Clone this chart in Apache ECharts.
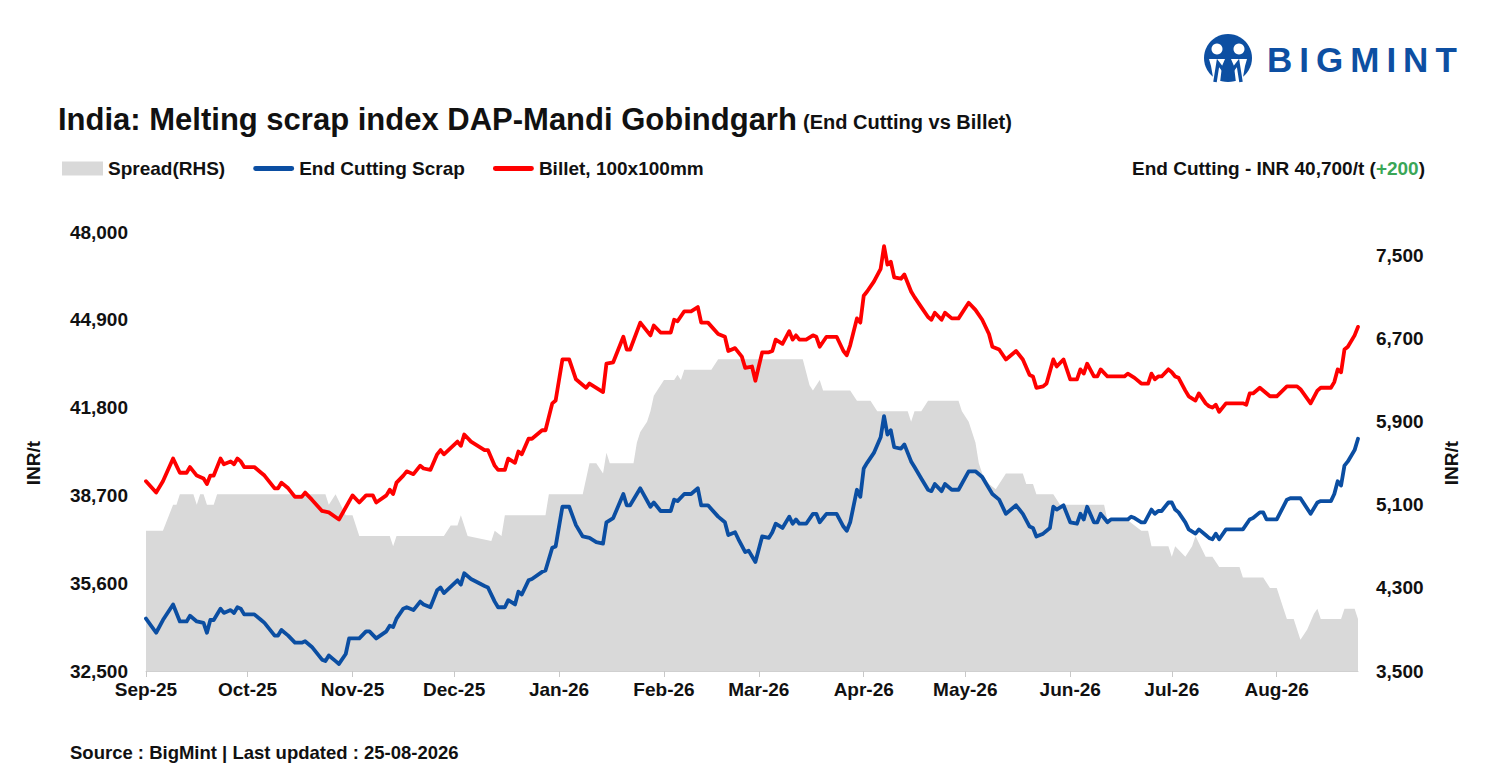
<!DOCTYPE html>
<html>
<head>
<meta charset="utf-8">
<script src="https://cdn.jsdelivr.net/npm/echarts@6/dist/echarts.min.js"></script>
<style>
html,body{margin:0;padding:0;background:#fff;}
#wrap{position:relative;width:1490px;height:776px;}
#chart{position:absolute;left:0;top:0;width:1490px;height:776px;}
#logo{position:absolute;left:1267px;top:42px;font-family:'Liberation Sans',Arial,sans-serif;font-weight:900;font-size:35px;line-height:35px;color:#0d4fa2;letter-spacing:7px;}
</style>
</head>
<body>
<div id="wrap">
<div id="chart"></div>
<div id="logo">BIGMINT</div>
</div>
<script>
// ---------- texts ----------
const titleText = 'India: Melting scrap index DAP-Mandi Gobindgarh';
const subTitleText = '(End Cutting vs Billet)';
const headlineText = 'End Cutting - INR 40,700/t (';
const headlineChange = '+200';
const sourceText = 'Source : BigMint | Last updated : 25-08-2026';
const unitText = 'INR/t';
const seriesNames = ['Spread(RHS)', 'End Cutting Scrap', 'Billet, 100x100mm'];

// ---------- axis ticks ----------
const monthTicks = ['2025-09-01','2025-10-01','2025-11-01','2025-12-01','2026-01-01','2026-02-01',
  '2026-03-01','2026-04-01','2026-05-01','2026-06-01','2026-07-01','2026-08-01'];
const monthNames = ['Jan','Feb','Mar','Apr','May','Jun','Jul','Aug','Sep','Oct','Nov','Dec'];
const leftTicks = [32500, 35600, 38700, 41800, 44900, 48000];
const rightTicks = [3500, 4300, 5100, 5900, 6700, 7500];
const xStart = '2025-09-01';
const xEnd = '2026-08-25';

// ---------- series values ----------
const billetData = [
['2025-09-01',39200],['2025-09-04',38800],['2025-09-06',39200],['2025-09-09',40000],['2025-09-11',39500],
['2025-09-13',39500],['2025-09-14',39700],['2025-09-16',39400],['2025-09-18',39300],['2025-09-19',39100],
['2025-09-20',39400],['2025-09-21',39400],['2025-09-23',40000],['2025-09-24',39800],['2025-09-26',39900],
['2025-09-27',39800],['2025-09-28',40000],['2025-09-29',39900],['2025-09-30',39700],['2025-10-03',39700],
['2025-10-05',39500],['2025-10-06',39400],['2025-10-09',38950],['2025-10-10',38950],['2025-10-11',39150],
['2025-10-13',38950],['2025-10-15',38650],['2025-10-17',38650],['2025-10-18',38800],['2025-10-20',38550],
['2025-10-23',38150],['2025-10-25',38100],['2025-10-28',37850],['2025-11-01',38700],['2025-11-03',38450],
['2025-11-05',38700],['2025-11-07',38700],['2025-11-08',38450],['2025-11-11',38700],['2025-11-12',38900],
['2025-11-13',38750],['2025-11-14',39150],['2025-11-16',39400],['2025-11-17',39550],['2025-11-19',39450],
['2025-11-21',39750],['2025-11-22',39650],['2025-11-24',39600],['2025-11-26',40150],['2025-11-27',40300],
['2025-11-28',40150],['2025-12-02',40600],['2025-12-03',40450],['2025-12-04',40850],['2025-12-06',40600],
['2025-12-10',40300],['2025-12-11',40300],['2025-12-13',39750],['2025-12-14',39600],['2025-12-16',39600],
['2025-12-17',40000],['2025-12-19',39850],['2025-12-20',40250],['2025-12-21',40150],['2025-12-23',40700],
['2025-12-24',40700],['2025-12-27',41000],['2025-12-28',41000],['2025-12-30',41950],['2025-12-31',42050],
['2026-01-02',43500],['2026-01-04',43500],['2026-01-06',42800],['2026-01-08',42600],['2026-01-09',42500],
['2026-01-10',42650],['2026-01-12',42500],['2026-01-14',42350],['2026-01-15',43350],['2026-01-17',43400],
['2026-01-20',44300],['2026-01-21',43850],['2026-01-22',43850],['2026-01-25',44800],['2026-01-28',44350],
['2026-01-29',44700],['2026-01-31',44450],['2026-02-03',44450],['2026-02-04',44900],['2026-02-05',44850],
['2026-02-07',45200],['2026-02-09',45200],['2026-02-11',45350],['2026-02-12',44800],['2026-02-14',44800],
['2026-02-17',44400],['2026-02-19',44300],['2026-02-20',43800],['2026-02-22',43900],['2026-02-24',43600],
['2026-02-25',43200],['2026-02-27',43250],['2026-02-28',42750],['2026-03-02',43750],['2026-03-04',43750],
['2026-03-05',43800],['2026-03-06',44200],['2026-03-08',44050],['2026-03-10',44500],['2026-03-11',44200],
['2026-03-12',44350],['2026-03-13',44200],['2026-03-15',44200],['2026-03-17',44350],['2026-03-18',44300],
['2026-03-19',43950],['2026-03-21',44300],['2026-03-24',44300],['2026-03-26',43800],['2026-03-27',43650],
['2026-03-28',44000],['2026-03-30',44950],['2026-03-31',44800],['2026-04-01',45750],['2026-04-02',45900],
['2026-04-04',46250],['2026-04-06',46700],['2026-04-07',47500],['2026-04-08',46850],['2026-04-09',46950],
['2026-04-10',46400],['2026-04-12',46350],['2026-04-13',46500],['2026-04-15',45900],['2026-04-16',45700],
['2026-04-18',45350],['2026-04-20',45000],['2026-04-21',44900],['2026-04-22',45150],['2026-04-24',44900],
['2026-04-25',45150],['2026-04-27',44950],['2026-04-29',44950],['2026-05-02',45500],['2026-05-04',45250],
['2026-05-06',44900],['2026-05-08',44400],['2026-05-09',43950],['2026-05-11',43850],['2026-05-13',43500],
['2026-05-16',43800],['2026-05-18',43500],['2026-05-20',42950],['2026-05-21',42900],['2026-05-22',42500],
['2026-05-24',42550],['2026-05-25',42650],['2026-05-27',43500],['2026-05-28',43250],['2026-05-30',43500],
['2026-06-01',42800],['2026-06-03',42800],['2026-06-04',43150],['2026-06-05',43000],['2026-06-06',43350],
['2026-06-08',42900],['2026-06-09',42900],['2026-06-10',43150],['2026-06-12',42900],['2026-06-17',42900],
['2026-06-18',43000],['2026-06-20',42850],['2026-06-22',42650],['2026-06-24',42650],['2026-06-25',43000],
['2026-06-26',42800],['2026-06-27',42900],['2026-06-28',42900],['2026-06-30',43150],['2026-07-01',43050],
['2026-07-02',42900],['2026-07-03',42850],['2026-07-05',42400],['2026-07-06',42200],['2026-07-08',42050],
['2026-07-09',42300],['2026-07-11',41950],['2026-07-12',41850],['2026-07-13',41800],['2026-07-14',41900],
['2026-07-15',41650],['2026-07-17',41950],['2026-07-22',41950],['2026-07-23',41900],['2026-07-24',42300],
['2026-07-25',42300],['2026-07-27',42500],['2026-07-30',42200],['2026-08-01',42200],['2026-08-04',42550],
['2026-08-07',42550],['2026-08-08',42450],['2026-08-11',41950],['2026-08-13',42400],['2026-08-14',42500],
['2026-08-17',42500],['2026-08-18',42700],['2026-08-19',43150],['2026-08-20',43050],['2026-08-21',43850],
['2026-08-22',43950],['2026-08-24',44350],['2026-08-25',44650]
];

const scrapData = [
['2025-09-01',34350],['2025-09-04',33850],['2025-09-06',34300],['2025-09-09',34850],['2025-09-11',34250],
['2025-09-13',34250],['2025-09-14',34450],['2025-09-16',34250],['2025-09-18',34200],['2025-09-19',33850],
['2025-09-20',34300],['2025-09-21',34300],['2025-09-23',34700],['2025-09-24',34550],['2025-09-26',34650],
['2025-09-27',34550],['2025-09-28',34750],['2025-09-29',34700],['2025-09-30',34500],['2025-10-03',34500],
['2025-10-05',34300],['2025-10-06',34200],['2025-10-09',33750],['2025-10-10',33750],['2025-10-11',33950],
['2025-10-13',33750],['2025-10-15',33500],['2025-10-17',33500],['2025-10-18',33550],['2025-10-20',33350],
['2025-10-23',32900],['2025-10-24',32850],['2025-10-25',33050],['2025-10-27',32850],['2025-10-28',32750],
['2025-10-30',33100],['2025-10-31',33650],['2025-11-03',33650],['2025-11-05',33900],['2025-11-06',33900],
['2025-11-08',33650],['2025-11-11',33900],['2025-11-12',34100],['2025-11-13',34050],['2025-11-14',34350],
['2025-11-16',34700],['2025-11-17',34750],['2025-11-19',34650],['2025-11-21',34950],['2025-11-22',34850],
['2025-11-24',34750],['2025-11-26',35350],['2025-11-27',35450],['2025-11-28',35250],['2025-12-02',35700],
['2025-12-03',35550],['2025-12-04',35950],['2025-12-06',35750],['2025-12-10',35500],['2025-12-11',35450],
['2025-12-13',34950],['2025-12-14',34750],['2025-12-16',34750],['2025-12-17',35000],['2025-12-19',34850],
['2025-12-20',35300],['2025-12-21',35200],['2025-12-23',35700],['2025-12-24',35750],['2025-12-27',36000],
['2025-12-28',36050],['2025-12-30',36850],['2025-12-31',36900],['2026-01-02',38300],['2026-01-04',38300],
['2026-01-06',37650],['2026-01-08',37250],['2026-01-10',37200],['2026-01-12',37050],['2026-01-14',37000],
['2026-01-15',37750],['2026-01-17',37900],['2026-01-20',38750],['2026-01-21',38350],['2026-01-22',38350],
['2026-01-25',38950],['2026-01-28',38300],['2026-01-29',38450],['2026-01-31',38150],['2026-02-03',38150],
['2026-02-04',38550],['2026-02-05',38500],['2026-02-07',38750],['2026-02-09',38750],['2026-02-11',38950],
['2026-02-12',38350],['2026-02-14',38350],['2026-02-17',37950],['2026-02-19',37750],['2026-02-20',37300],
['2026-02-22',37400],['2026-02-23',37150],['2026-02-25',36700],['2026-02-26',36750],['2026-02-28',36350],
['2026-03-02',37250],['2026-03-04',37200],['2026-03-05',37400],['2026-03-06',37700],['2026-03-08',37550],
['2026-03-10',37950],['2026-03-11',37700],['2026-03-12',37850],['2026-03-13',37700],['2026-03-15',37700],
['2026-03-17',38050],['2026-03-18',38050],['2026-03-19',37750],['2026-03-21',38050],['2026-03-24',38050],
['2026-03-26',37600],['2026-03-27',37450],['2026-03-28',37750],['2026-03-30',38900],['2026-03-31',38650],
['2026-04-01',39650],['2026-04-02',39850],['2026-04-04',40200],['2026-04-06',40750],['2026-04-07',41500],
['2026-04-08',40850],['2026-04-09',41000],['2026-04-10',40400],['2026-04-12',40350],['2026-04-13',40500],
['2026-04-15',39900],['2026-04-16',39700],['2026-04-18',39300],['2026-04-20',38900],['2026-04-21',38850],
['2026-04-22',39100],['2026-04-24',38850],['2026-04-25',39100],['2026-04-27',38900],['2026-04-29',38900],
['2026-05-02',39550],['2026-05-04',39550],['2026-05-06',39350],['2026-05-07',39150],['2026-05-09',38750],
['2026-05-11',38550],['2026-05-13',38050],['2026-05-16',38350],['2026-05-18',38050],['2026-05-20',37600],
['2026-05-21',37550],['2026-05-22',37250],['2026-05-24',37350],['2026-05-26',37550],['2026-05-27',38300],
['2026-05-28',38200],['2026-05-30',38350],['2026-06-01',37750],['2026-06-03',37700],['2026-06-04',38050],
['2026-06-05',37850],['2026-06-06',38300],['2026-06-08',37750],['2026-06-09',37750],['2026-06-10',38050],
['2026-06-12',37750],['2026-06-13',37850],['2026-06-18',37850],['2026-06-19',37950],['2026-06-20',37900],
['2026-06-22',37750],['2026-06-23',37750],['2026-06-25',38200],['2026-06-26',38050],['2026-06-27',38150],
['2026-06-28',38150],['2026-06-30',38450],['2026-07-01',38450],['2026-07-02',38200],['2026-07-03',38100],
['2026-07-05',37750],['2026-07-06',37500],['2026-07-08',37350],['2026-07-09',37500],['2026-07-11',37300],
['2026-07-12',37200],['2026-07-13',37150],['2026-07-14',37350],['2026-07-15',37150],['2026-07-17',37500],
['2026-07-22',37500],['2026-07-24',37850],['2026-07-25',37900],['2026-07-27',38100],['2026-07-28',38100],
['2026-07-29',37850],['2026-08-01',37850],['2026-08-04',38550],['2026-08-05',38600],['2026-08-08',38600],
['2026-08-11',38050],['2026-08-13',38450],['2026-08-14',38500],['2026-08-17',38500],['2026-08-18',38750],
['2026-08-19',39200],['2026-08-20',39050],['2026-08-21',39750],['2026-08-22',39900],['2026-08-24',40300],
['2026-08-25',40700]
];

const spreadData = [
['2025-09-01',4850],['2025-09-06',4850],['2025-09-09',5100],['2025-09-10',5100],['2025-09-11',5200],
['2025-09-15',5200],['2025-09-16',5100],['2025-09-17',5200],['2025-09-18',5200],['2025-09-19',5100],
['2025-09-21',5100],['2025-09-22',5200],['2025-10-24',5200],['2025-10-25',5100],['2025-10-27',5200],
['2025-10-30',5000],['2025-11-01',5000],['2025-11-03',4800],['2025-11-12',4800],['2025-11-13',4700],
['2025-11-14',4800],['2025-11-28',4800],['2025-11-30',4900],['2025-12-02',4900],['2025-12-03',5000],
['2025-12-05',4800],['2025-12-12',4750],['2025-12-13',4850],['2025-12-15',4800],['2025-12-16',5000],
['2025-12-28',5000],['2025-12-29',5200],['2026-01-08',5200],['2026-01-10',5500],['2026-01-12',5500],
['2026-01-14',5400],['2026-01-15',5600],['2026-01-16',5500],['2026-01-23',5500],['2026-01-24',5700],
['2026-01-25',5800],['2026-01-27',5900],['2026-01-28',6000],['2026-01-29',6150],['2026-01-30',6200],
['2026-02-01',6300],['2026-02-04',6300],['2026-02-05',6350],['2026-02-06',6300],['2026-02-07',6400],
['2026-02-15',6400],['2026-02-17',6500],['2026-03-14',6500],['2026-03-16',6250],['2026-03-17',6200],
['2026-03-19',6300],['2026-03-20',6200],['2026-03-28',6200],['2026-03-30',6100],['2026-04-03',6100],
['2026-04-05',6000],['2026-04-14',6000],['2026-04-15',5900],['2026-04-16',6000],['2026-04-18',6000],
['2026-04-20',6100],['2026-04-29',6100],['2026-04-30',6000],['2026-05-02',5900],['2026-05-04',5700],
['2026-05-05',5500],['2026-05-06',5400],['2026-05-08',5300],['2026-05-10',5250],['2026-05-13',5400],
['2026-05-18',5400],['2026-05-19',5300],['2026-05-21',5300],['2026-05-22',5200],['2026-05-27',5200],
['2026-05-29',5100],['2026-06-11',5100],['2026-06-12',4950],['2026-06-18',4950],['2026-06-20',4900],
['2026-06-22',4850],['2026-06-24',4850],['2026-06-25',4700],['2026-06-30',4700],['2026-07-01',4600],
['2026-07-02',4700],['2026-07-05',4600],['2026-07-07',4700],['2026-07-08',4800],['2026-07-11',4600],
['2026-07-13',4600],['2026-07-15',4500],['2026-07-21',4500],['2026-07-22',4400],['2026-07-28',4400],
['2026-07-30',4300],['2026-08-01',4300],['2026-08-03',4100],['2026-08-04',4000],['2026-08-06',4000],
['2026-08-08',3800],['2026-08-10',3900],['2026-08-12',4050],['2026-08-13',4100],['2026-08-14',4000],
['2026-08-20',4000],['2026-08-21',4100],['2026-08-24',4100],['2026-08-25',4000]
];

// ---------- styling ----------
const FONT = "'Liberation Sans', Arial, sans-serif";
const INK = '#111111';
const BLUE = '#0b4ea2';
const RED = '#ff0000';
const GREY = '#d9d9d9';
const LINE_ICON = 'path://M6,0 H94 A6,6 0 0 1 94,12 H6 A6,6 0 0 1 6,0 Z';

// date string -> timestamp (UTC) so the value axis can place it
const ts = s => { const p = s.split('-'); return Date.UTC(+p[0], +p[1] - 1, +p[2]); };
const toXY = arr => arr.map(d => [ts(d[0]), d[1]]);

const chart = echarts.init(document.getElementById('chart'), null, { renderer: 'svg' });

const fmtThousands = v => Number(v).toLocaleString('en-US');
const fmtMonth = v => {
  const d = new Date(v);
  return monthNames[d.getUTCMonth()] + '-' + String(d.getUTCFullYear()).slice(2);
};
const monthTickTs = monthTicks.map(ts);

const option = {
  backgroundColor: '#ffffff',
  animation: false,
  textStyle: { fontFamily: FONT },
  title: {
    text: titleText,
    left: 53,
    top: 99,
    textStyle: { fontFamily: FONT, fontWeight: 'bold', fontSize: 31, color: INK }
  },
  legend: {
    left: 57,
    top: 154,
    itemWidth: 41,
    itemHeight: 14,
    itemGap: 28,
    symbolKeepAspect: true,
    textStyle: { fontFamily: FONT, fontWeight: 'bold', fontSize: 19, color: INK },
    data: [
      { name: seriesNames[0], icon: 'rect', itemStyle: { color: GREY } },
      { name: seriesNames[1], icon: LINE_ICON, itemStyle: { color: BLUE } },
      { name: seriesNames[2], icon: LINE_ICON, itemStyle: { color: RED } }
    ]
  },
  grid: { left: 146, right: 132, top: 232, bottom: 105, containLabel: false },
  xAxis: {
    type: 'value',
    min: ts(xStart),
    max: ts(xEnd),
    axisLine: { show: true, onZero: false, lineStyle: { color: '#d0d0d0', width: 1 } },
    axisTick: { show: true, length: 6, lineStyle: { color: '#c8c8c8' }, customValues: monthTickTs },
    axisLabel: {
      customValues: monthTickTs,
      formatter: fmtMonth,
      fontFamily: FONT, fontWeight: 'bold', fontSize: 19, color: INK, margin: 9,
      showMinLabel: true, showMaxLabel: true
    },
    splitLine: { show: false }
  },
  yAxis: [
    {
      type: 'value',
      min: leftTicks[0],
      max: leftTicks[leftTicks.length - 1],
      axisLine: { show: false },
      axisTick: { show: false },
      splitLine: { show: false },
      axisLabel: {
        customValues: leftTicks,
        formatter: fmtThousands,
        fontFamily: FONT, fontWeight: 'bold', fontSize: 19, color: INK, margin: 18
      }
    },
    {
      type: 'value',
      min: rightTicks[0],
      max: 7725,
      position: 'right',
      axisLine: { show: false },
      axisTick: { show: false },
      splitLine: { show: false },
      axisLabel: {
        customValues: rightTicks,
        formatter: fmtThousands,
        fontFamily: FONT, fontWeight: 'bold', fontSize: 19, color: INK, margin: 18
      }
    }
  ],
  series: [
    {
      name: seriesNames[0],
      type: 'line',
      yAxisIndex: 1,
      data: toXY(spreadData),
      showSymbol: false,
      symbol: 'none',
      lineStyle: { width: 0, color: GREY },
      itemStyle: { color: GREY },
      areaStyle: { color: GREY, opacity: 1 },
      z: 1
    },
    {
      name: seriesNames[1],
      type: 'line',
      yAxisIndex: 0,
      data: toXY(scrapData),
      showSymbol: false,
      symbol: 'none',
      lineStyle: { width: 3.8, color: BLUE, cap: 'round', join: 'round' },
      itemStyle: { color: BLUE },
      z: 3
    },
    {
      name: seriesNames[2],
      type: 'line',
      yAxisIndex: 0,
      data: toXY(billetData),
      showSymbol: false,
      symbol: 'none',
      lineStyle: { width: 3.8, color: RED, cap: 'round', join: 'round' },
      itemStyle: { color: RED },
      z: 4
    }
  ],
  graphic: [
    {
      type: 'text', left: 803, top: 112,
      style: { text: subTitleText, font: "bold 20px " + FONT, fill: INK }
    },
    {
      type: 'text', x: 1425, y: 168,
      style: {
        text: '{a|' + headlineText + '}{g|' + headlineChange + '}{a|)}',
        align: 'right', verticalAlign: 'middle',
        rich: {
          a: { font: "bold 19px " + FONT, fill: INK },
          g: { font: "bold 19px " + FONT, fill: '#3aa657' }
        }
      }
    },
    {
      type: 'text', x: 33, y: 463, rotation: Math.PI / 2,
      style: { text: unitText, font: "bold 19px " + FONT, fill: INK, align: 'center', verticalAlign: 'middle' }
    },
    {
      type: 'text', x: 1451, y: 463, rotation: Math.PI / 2,
      style: { text: unitText, font: "bold 19px " + FONT, fill: INK, align: 'center', verticalAlign: 'middle' }
    },
    {
      type: 'text', x: 70, y: 752,
      style: { text: sourceText, font: "bold 18.5px " + FONT, fill: INK, verticalAlign: 'middle' }
    },
    { type: 'circle', shape: { cx: 1228, cy: 58, r: 24 }, style: { fill: '#0d4fa2' } },
    { type: 'circle', shape: { cx: 1217, cy: 49, r: 5.5 }, style: { fill: '#ffffff' } },
    { type: 'circle', shape: { cx: 1239, cy: 49, r: 5.5 }, style: { fill: '#ffffff' } },
    { type: 'polygon', shape: { points: [[1209, 59], [1225, 59], [1222, 66], [1220, 83], [1214, 83], [1211, 66]] }, style: { fill: '#ffffff' } },
    { type: 'polygon', shape: { points: [[1231, 59], [1247, 59], [1245, 66], [1242, 83], [1236, 83], [1234, 66]] }, style: { fill: '#ffffff' } },
    { type: 'polyline', shape: { points: [[1215, 82], [1218, 63], [1228, 76], [1238, 63], [1241, 82]] }, style: { stroke: '#0d4fa2', lineWidth: 3.5, fill: null } }
  ]
};

chart.setOption(option);
</script>
</body>
</html>
